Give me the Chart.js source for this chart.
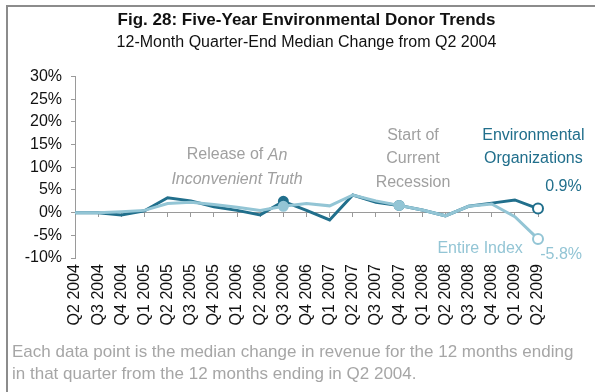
<!DOCTYPE html>
<html>
<head>
<meta charset="utf-8">
<script src="https://cdn.jsdelivr.net/npm/chart.js@4.4.1/dist/chart.umd.min.js"></script>
<style>
  html, body { margin: 0; padding: 0; background: #fff; overflow: hidden; }
  #marco { position: absolute; left: 6px; top: 5px; width: 600px; height: 400px;
    border-left: 2px solid #8c8c8c; border-top: 2px solid #8c8c8c; }
  #contenedor { position: absolute; left: 0; top: 0; width: 595px; height: 392px; }
</style>
</head>
<body>
<div id="marco"></div>
<div id="contenedor"><canvas id="grafico-donantes"></canvas></div>
<script>
const trimestres = [
  "Q2 2004", "Q3 2004", "Q4 2004", "Q1 2005", "Q2 2005", "Q3 2005", "Q4 2005",
  "Q1 2006", "Q2 2006", "Q3 2006", "Q4 2006", "Q1 2007", "Q2 2007", "Q3 2007",
  "Q4 2007", "Q1 2008", "Q2 2008", "Q3 2008", "Q4 2008", "Q1 2009", "Q2 2009",
];
// % median change vs Q2 2004
const orgsAmbientales = [0, 0, -0.5, 0.4, 3.3, 2.6, 1.3, 0.5, -0.5, 2.5, 0.5, -1.6, 3.9, 2.3, 1.6, 0.6, -0.7, 1.4, 2.1, 2.8, 0.9];
const indiceTotal = [0, 0, 0.2, 0.5, 2.0, 2.3, 1.8, 1.2, 0.5, 1.4, 2.0, 1.5, 3.9, 2.6, 1.6, 0.6, -0.7, 1.4, 1.9, -0.9, -5.8];
const yMin = -10;
const yMax = 30;
const yPaso = 5;

const oscuro = "#216f8c";
const claro = "#93c5d5";
const gris = "#a0a0a0";
const fuente = "'Liberation Sans', Arial, sans-serif";

Chart.defaults.font.family = fuente;
Chart.defaults.font.size = 16;
Chart.defaults.color = "#111";

// markers: Q3 2006 and Q4 2007 filled, last quarter hollow
const ultimo = trimestres.length - 1;
const radios = trimestres.map((t, i) => (i === 9 || i === 14 ? 4.5 : i === ultimo ? 5 : 0));
const relleno = (color) => trimestres.map((t, i) => (i === ultimo ? "#fff" : color));

// text notes anchored to (category index, y value)
const notas = [
  { i: 7, v: 12.7, color: gris, partes: [["Release of ", "normal"], ["An", "italic"]] },
  { i: 7, v: 7.4, color: gris, partes: [["Inconvenient Truth", "italic"]] },
  { i: 14.6, v: 17.1, color: gris, partes: [["Start of", "normal"]] },
  { i: 14.6, v: 11.9, color: gris, partes: [["Current", "normal"]] },
  { i: 14.6, v: 6.7, color: gris, partes: [["Recession", "normal"]] },
  { i: 19.8, v: 17.1, color: oscuro, partes: [["Environmental", "normal"]] },
  { i: 19.8, v: 12.0, color: oscuro, partes: [["Organizations", "normal"]] },
  { i: 21.1, v: 5.8, color: oscuro, partes: [["0.9%", "normal"]] },
  { i: 17.5, v: -8.0, color: claro, partes: [["Entire Index", "normal"]] },
  { i: 21.0, v: -9.3, color: claro, partes: [["-5.8%", "normal"]] },
];

const pie = [
  "Each data point is the median change in revenue for the 12 months ending",
  "in that quarter from the 12 months ending in Q2 2004.",
];

const textosExtra = {
  id: "textosExtra",
  afterDraw(chart) {
    const ctx = chart.ctx;
    const x = chart.scales.x;
    const y = chart.scales.y;
    ctx.save();
    ctx.textBaseline = "middle";
    ctx.textAlign = "left";
    notas.forEach((n) => {
      let ancho = 0;
      n.partes.forEach((p) => {
        ctx.font = `${p[1]} 16px ${fuente}`;
        ancho += ctx.measureText(p[0]).width;
      });
      let px = x.getPixelForValue(n.i) - ancho / 2;
      const py = y.getPixelForValue(n.v);
      ctx.fillStyle = n.color;
      n.partes.forEach((p) => {
        ctx.font = `${p[1]} 16px ${fuente}`;
        ctx.fillText(p[0], px, py);
        px += ctx.measureText(p[0]).width;
      });
    });
    // footnote under the chart
    ctx.font = `17px ${fuente}`;
    ctx.fillStyle = "#a6a6a6";
    pie.forEach((linea, k) => {
      ctx.fillText(linea, 12, chart.height - 40 + k * 22);
    });
    ctx.restore();
  },
};

const canva = document.getElementById("grafico-donantes").getContext("2d");
const chartDonantes = new Chart(canva, {
  type: "line",
  data: {
    labels: trimestres,
    datasets: [
      {
        label: "Environmental Organizations",
        data: orgsAmbientales,
        borderColor: oscuro,
        borderWidth: 3,
        pointRadius: radios,
        pointBorderWidth: 2,
        pointBorderColor: oscuro,
        pointBackgroundColor: relleno(oscuro),
        tension: 0,
        clip: false,
        order: 1,
      },
      {
        label: "Entire Index",
        data: indiceTotal,
        borderColor: claro,
        borderWidth: 3,
        pointRadius: radios,
        pointBorderWidth: 2,
        pointBorderColor: claro,
        pointBackgroundColor: relleno(claro),
        tension: 0,
        clip: false,
        order: 0,
      },
    ],
  },
  options: {
    responsive: true,
    maintainAspectRatio: false,
    animation: false,
    layout: { padding: { left: 10, right: 57, top: 0, bottom: 59 } },
    scales: {
      // axis line with tick marks at 0%
      x: {
        type: "category",
        axis: "x",
        position: { y: 0 },
        offset: false,
        border: { display: true, color: "#9a9a9a", width: 1 },
        grid: { display: true, drawOnChartArea: false, drawTicks: true, tickLength: 4, color: "#9a9a9a" },
        ticks: { display: false },
      },
      // quarter labels along the bottom
      x2: {
        type: "category",
        axis: "x",
        position: "bottom",
        offset: false,
        border: { display: false },
        grid: { display: false, drawTicks: false },
        ticks: { autoSkip: false, minRotation: 90, maxRotation: 90, padding: 6, color: "#111", font: { size: 16 } },
        afterFit: (scale) => { scale.height = 75; },
      },
      y: {
        min: yMin,
        max: yMax,
        border: { display: true, color: "#9a9a9a", width: 1 },
        grid: { display: true, drawOnChartArea: false, drawTicks: true, tickLength: 4, color: "#9a9a9a" },
        ticks: { stepSize: yPaso, padding: 9, color: "#111", font: { size: 16 }, callback: (v) => v + "%" },
        afterFit: (scale) => { scale.width = 65; },
      },
    },
    plugins: {
      legend: { display: false },
      tooltip: { enabled: false },
      title: {
        display: true,
        fullSize: false,
        text: "Fig. 28: Five-Year Environmental Donor Trends",
        font: { size: 17, weight: "bold" },
        color: "#111",
        padding: { top: 10, bottom: 2 },
      },
      subtitle: {
        display: true,
        fullSize: false,
        text: "12-Month Quarter-End Median Change from Q2 2004",
        font: { size: 16 },
        color: "#111",
        padding: { top: 1, bottom: 24 },
      },
    },
  },
  plugins: [textosExtra],
});
</script>
</body>
</html>
